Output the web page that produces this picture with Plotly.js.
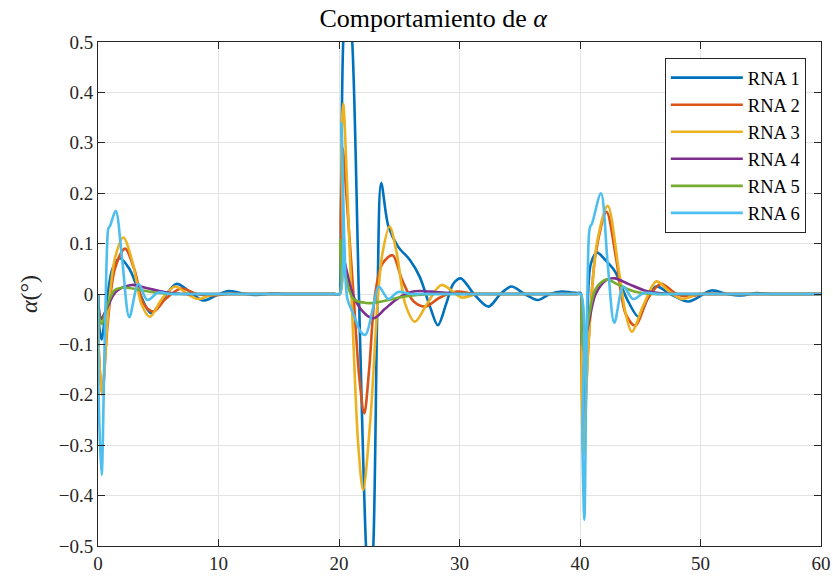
<!DOCTYPE html>
<html>
<head>
<meta charset="utf-8">
<script src="https://cdn.plot.ly/plotly-3.0.1.min.js"></script>
<style>html,body{margin:0;padding:0;background:#fff;}#chart{width:833px;height:580px;}</style>
</head>
<body>
<div id="chart"></div>
<script>
// Series names
const names = ["RNA 1", "RNA 2", "RNA 3", "RNA 4", "RNA 5", "RNA 6"];

// RNA 1 (key points)
const rna1_t = [0, 0.08, 0.3, 0.7, 1.2, 1.8, 2.6, 3.4, 4.4, 5.4, 6.5, 7.6, 8.7, 9.8, 10.8, 12, 13.2, 14.4, 15.6, 16.8, 18, 19, 19.6, 20.05,
  20.1, 20.35, 20.7, 21.1, 21.65, 22.24, 22.55, 22.85, 23.2, 23.5, 24.1, 24.9, 25.9, 26.7, 27.55, 28.2, 28.9, 29.5, 30.1, 31.2, 32.4, 33.4, 34.3, 35.4, 36.5, 37.5, 38.5, 39.3, 39.8, 40.05,
  40.12, 40.3, 40.6, 40.9, 41.4, 42.2, 42.9, 43.9, 44.85, 45.6, 46.3, 47.5, 49, 50.9, 52.2, 53.4, 54.6, 55.8, 57, 58.2, 59.2, 60];
const rna1_y = [0, -0.06, -0.09, -0.02, 0.05, 0.071, 0.05, 0.005, -0.038, -0.01, 0.02, 0.005, -0.013, -0.003, 0.006, 0.001, -0.002, 0.001, 0, 0, 0, 0, 0, 0,
  0.02, 0.5, 0.62, 0.5, 0.0, -0.5, -0.62, -0.5, 0.0, 0.22, 0.134, 0.094, 0.067, 0.034, -0.025, -0.062, -0.019, 0.021, 0.031, 0.0, -0.025, 0.0, 0.015, 0.0, -0.012, 0.0, 0.005, 0.003, 0.002, 0.002,
  -0.08, -0.24, -0.05, 0.06, 0.082, 0.065, 0.045, -0.01, -0.045, -0.01, 0.015, 0.0, -0.015, 0.007, 0.0, -0.003, 0.002, 0, 0, 0, 0, 0];

// RNA 2
const rna2_t = [0, 0.08, 0.35, 0.8, 1.4, 2.24, 3.0, 3.8, 4.6, 5.6, 6.9, 8.2, 9.5, 10.8, 12, 13.2, 14.4, 15.6, 16.8, 18, 19, 19.6, 20.05,
  20.15, 20.3, 20.6, 21.2, 21.7, 22.1, 22.5, 23.0, 23.6, 24.45, 25.2, 26.2, 27.2, 28.3, 29.8, 31, 32.2, 33.4, 34.6, 35.8, 37, 38.2, 39.2, 39.8, 40.05,
  40.12, 40.3, 40.7, 41.3, 42.2, 43.0, 43.8, 44.6, 45.6, 46.7, 48, 49, 50.2, 51.4, 52.6, 53.8, 55, 56.2, 57.4, 58.6, 59.4, 60];
const rna2_y = [0, -0.12, -0.2, -0.06, 0.05, 0.09, 0.05, -0.02, -0.035, -0.01, 0.011, 0.0, -0.003, 0, 0, 0, 0, 0, 0, 0, 0, 0, 0,
  0.15, 0.29, 0.2, 0.0, -0.17, -0.237, -0.15, 0.0, 0.06, 0.077, 0.03, -0.015, -0.025, -0.008, 0.005, 0.001, 0, 0, 0, 0, 0, 0, 0, 0, 0,
  -0.15, -0.27, -0.1, 0.08, 0.163, 0.07, -0.04, -0.063, -0.01, 0.02, 0.0, -0.005, 0, 0, 0, 0, 0, 0, 0, 0, 0, 0];

// RNA 3
const rna3_t = [0, 0.08, 0.35, 0.8, 1.4, 2.1, 2.9, 3.6, 4.3, 5.3, 6.4, 7.4, 8.3, 9.4, 10.6, 11.8, 13, 14.2, 15.4, 16.6, 17.8, 18.8, 19.6, 20.05,
  20.2, 20.35, 20.7, 21.2, 21.6, 22.0, 22.6, 23.25, 23.6, 24.2, 24.8, 25.5, 26.3, 27.3, 28.5, 30.2, 31.4, 32.6, 33.8, 35, 36.2, 37.4, 38.6, 39.4, 39.8, 40.05,
  40.12, 40.3, 40.7, 41.4, 42.3, 43.2, 43.8, 44.3, 45.3, 46.35, 47.4, 48.5, 49.8, 51, 52.2, 53.4, 54.6, 55.8, 57, 58.2, 59.2, 60];
const rna3_y = [0, -0.12, -0.2, -0.05, 0.07, 0.112, 0.06, -0.02, -0.045, -0.01, 0.015, 0.0, -0.01, -0.002, 0, 0, 0, 0, 0, 0, 0, 0, 0, 0,
  0.3, 0.378, 0.2, -0.1, -0.3, -0.389, -0.25, 0.0, 0.08, 0.134, 0.08, -0.02, -0.055, -0.02, 0.018, -0.007, 0, 0, 0, 0, 0, 0, 0, 0, 0, 0,
  -0.18, -0.32, -0.1, 0.1, 0.175, 0.05, -0.04, -0.075, -0.02, 0.025, 0.005, -0.01, 0, 0, 0, 0, 0, 0, 0, 0, 0, 0];

// RNA 4
const rna4_t = [0, 0.08, 0.25, 0.7, 1.5, 2.8, 4, 5.5, 7, 8.4, 9.8, 11.2, 12.6, 14, 15.4, 16.8, 18, 19, 19.6, 20.05,
  20.15, 20.5, 21.3, 22.2, 22.9, 23.8, 24.8, 26, 26.7, 28, 29.4, 30.8, 32.2, 33.6, 35, 36.4, 37.8, 39, 39.7, 40.05,
  40.12, 40.3, 40.7, 41.3, 42.2, 42.9, 44, 45.5, 47, 48.4, 49.8, 51.2, 52.6, 54, 55.4, 56.8, 58.2, 59.3, 60];
const rna4_y = [0, -0.03, -0.05, -0.03, 0.005, 0.018, 0.012, 0.004, 0.0, 0, 0, 0, 0, 0, 0, 0, 0, 0, 0, 0,
  0.1, 0.06, -0.01, -0.04, -0.048, -0.03, -0.01, 0.004, 0.006, 0.004, 0.001, 0, 0, 0, 0, 0, 0, 0, 0, 0,
  -0.06, -0.1, -0.06, 0.0, 0.028, 0.031, 0.02, 0.006, 0.001, 0, 0, 0, 0, 0, 0, 0, 0, 0, 0];

// RNA 5
const rna5_t = [0, 0.08, 0.3, 0.8, 1.4, 2.2, 3.5, 5, 6.5, 8, 9.5, 11, 12.5, 14, 15.5, 17, 18.3, 19.3, 19.8, 20.05,
  20.12, 20.5, 21.2, 22.3, 23.5, 25, 26.5, 28, 29.5, 31, 32.5, 34, 35.5, 37, 38.4, 39.4, 39.8, 40.05,
  40.12, 40.3, 40.7, 41.3, 42.2, 43.2, 44.5, 46, 47.5, 49, 50.5, 52, 53.5, 55, 56.5, 58, 59.2, 60];
const rna5_y = [0, -0.04, -0.06, -0.02, 0.008, 0.013, 0.008, 0.002, 0, 0, 0, 0, 0, 0, 0, 0, 0, 0, 0, 0,
  0.107, 0.04, -0.01, -0.018, -0.015, -0.007, -0.002, 0, 0, 0, 0, 0, 0, 0, 0, 0, 0, 0,
  -0.07, -0.114, -0.05, 0.01, 0.029, 0.018, 0.005, 0, 0, 0, 0, 0, 0, 0, 0, 0, 0, 0];

// RNA 6
const rna6_t = [0, 0.05, 0.3, 0.55, 0.8, 0.86, 1.0, 1.47, 2.0, 2.6, 3.35, 4.1, 5, 6, 7.2, 8.4, 9.6, 10.8, 12, 13.2, 14.4, 15.6, 16.8, 18, 19, 19.6, 20.05,
  20.2, 20.45, 20.7, 21.2, 21.8, 22.2, 22.8, 23.3, 24.1, 24.9, 26, 27.2, 28.4, 29.6, 30.8, 32, 33.2, 34.4, 35.6, 36.8, 38, 39, 39.6, 40.05,
  40.2, 40.36, 40.55, 40.75, 40.85, 41.0, 41.74, 42.3, 42.85, 43.6, 44.4, 45.3, 46.5, 47.7, 48.9, 50.1, 51.3, 52.5, 53.7, 54.9, 56.1, 57.3, 58.5, 59.4, 60];
const rna6_y = [0, -0.2, -0.359, -0.1, 0.12, 0.13, 0.135, 0.165, 0.07, -0.046, 0.02, -0.012, 0.003, 0, 0, 0, 0, 0, 0, 0, 0, 0, 0, 0, 0, 0, 0,
  0.339, 0.1, -0.01, -0.04, -0.075, -0.081, -0.03, 0.015, -0.01, 0.004, 0, 0, 0, 0, 0, 0, 0, 0, 0, 0, 0, 0, 0, 0,
  -0.3, -0.448, -0.1, 0.12, 0.134, 0.14, 0.2, 0.06, -0.057, 0.015, -0.01, 0.002, 0, 0, 0, 0, 0, 0, 0, 0, 0, 0, 0, 0, 0];

// Axis ticks
const xTicks = [0, 10, 20, 30, 40, 50, 60];
const yTicks = [-0.5, -0.4, -0.3, -0.2, -0.1, 0, 0.1, 0.2, 0.3, 0.4, 0.5];

const colors = ["#0072BD", "#D95319", "#EDB120", "#7E2F8E", "#77AC30", "#4DBEEE"];
const ts = [rna1_t, rna2_t, rna3_t, rna4_t, rna5_t, rna6_t];
const ys = [rna1_y, rna2_y, rna3_y, rna4_y, rna5_y, rna6_y];

const serif = "'Liberation Serif', 'DejaVu Serif', serif";
const traces = names.map((n, i) => ({
  x: ts[i], y: ys[i], name: n, type: "scatter", mode: "lines",
  line: {color: colors[i], width: 2.6, shape: "spline", smoothing: 0.9}
}));

const axisCommon = {
  showline: true, linecolor: "#262626", linewidth: 1, mirror: "ticks",
  ticks: "inside", ticklen: 7, tickcolor: "#262626", tickwidth: 1,
  showgrid: true, gridcolor: "#e3e3e3", gridwidth: 1, zeroline: false,
  tickfont: {family: serif, size: 19, color: "#262626"}
};

const layout = {
  width: 833, height: 580,
  margin: {l: 98, r: 12, t: 42, b: 34},
  paper_bgcolor: "#fff", plot_bgcolor: "#fff",
  title: {text: "Comportamiento de <i>α</i>", font: {family: serif, size: 26, color: "#000"}, x: 0.52, xanchor: "center", y: 0.97, yanchor: "middle"},
  xaxis: Object.assign({}, axisCommon, {range: [0, 60], tickvals: xTicks}),
  yaxis: Object.assign({}, axisCommon, {range: [-0.5, 0.5], tickvals: yTicks,
    title: {text: "<i>α</i>(°)", font: {family: serif, size: 24, color: "#262626"}, standoff: 14}}),
  showlegend: true,
  legend: {x: 0.979, y: 0.968, xanchor: "right", yanchor: "top", bgcolor: "#fff",
    bordercolor: "#262626", borderwidth: 1, font: {family: serif, size: 18.5, color: "#000"},
    itemwidth: 72, tracegroupgap: 0}
};

Plotly.newPlot("chart", traces, layout, {displayModeBar: false, staticPlot: true});
</script>
</body>
</html>
